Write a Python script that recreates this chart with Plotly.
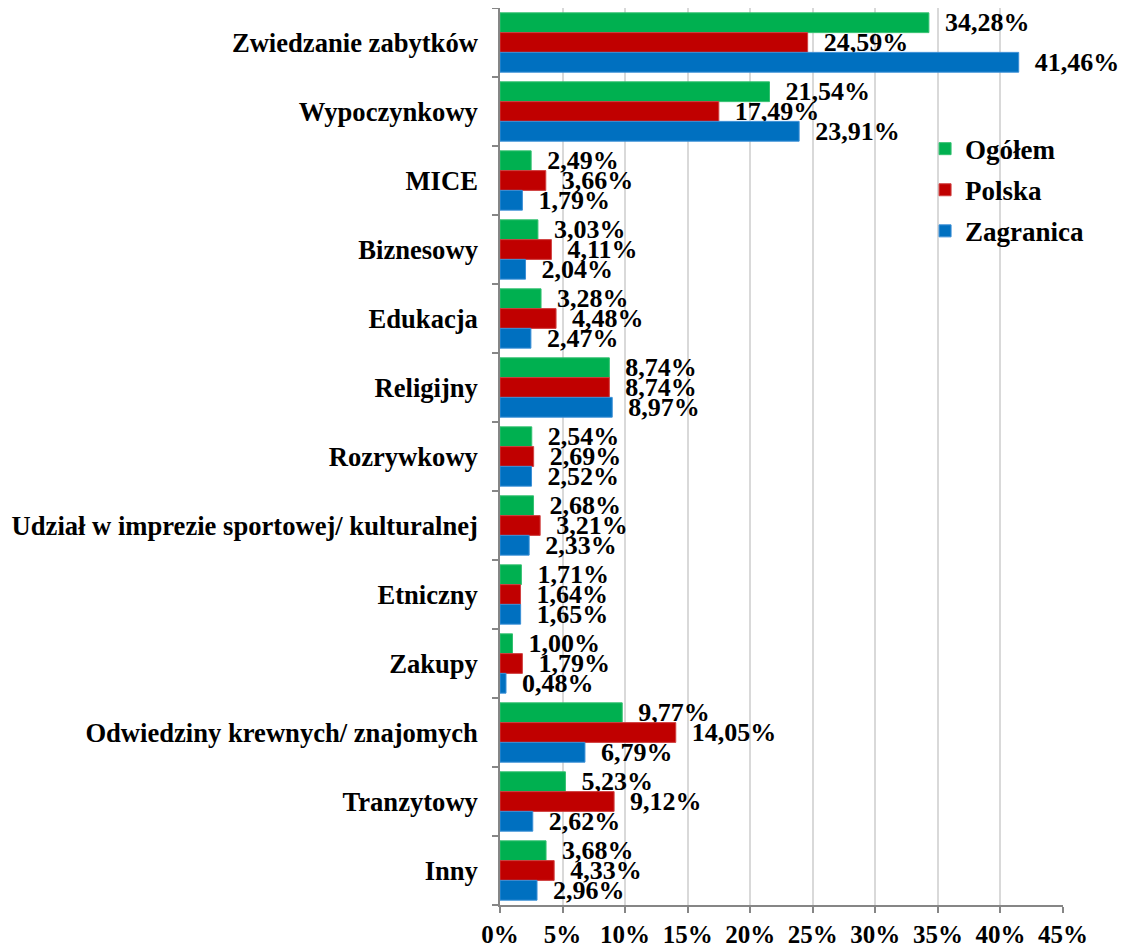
import plotly.graph_objects as go

# DATA
kategorie = [
    'Zwiedzanie zabytków', 'Wypoczynkowy', 'MICE', 'Biznesowy', 'Edukacja',
    'Religijny', 'Rozrywkowy', 'Udział w imprezie sportowej/ kulturalnej',
    'Etniczny', 'Zakupy', 'Odwiedziny krewnych/ znajomych', 'Tranzytowy', 'Inny'
]
ogolem = [34.28, 21.54, 2.49, 3.03, 3.28, 8.74, 2.54, 2.68, 1.71, 1.00, 9.77, 5.23, 3.68]
polska = [24.59, 17.49, 3.66, 4.11, 4.48, 8.74, 2.69, 3.21, 1.64, 1.79, 14.05, 9.12, 4.33]
zagranica = [41.46, 23.91, 1.79, 2.04, 2.47, 8.97, 2.52, 2.33, 1.65, 0.48, 6.79, 2.62, 2.96]
x_ticks = list(range(0, 50, 5))

serie = [
    ('Ogółem', ogolem, '#00B050', '#33C070'),
    ('Polska', polska, '#C00000', '#D04040'),
    ('Zagranica', zagranica, '#0070C0', '#3A8FD6'),
]

FONT = "'Liberation Serif', 'Times New Roman', Times, serif"

fig = go.Figure()
for i, (nazwa, wartosci, kolor, obrys) in enumerate(serie):
    fig.add_trace(go.Bar(
        y=kategorie,
        x=wartosci,
        name=f'<b>{nazwa}</b>',
        orientation='h',
        marker=dict(color=kolor, line=dict(color=obrys, width=1)),
        texttemplate='\u00a0\u00a0<b>%{x:.2f}%</b>',
        textposition='outside',
        constraintext='none',
        cliponaxis=False,
        textfont=dict(family=FONT, size=26, color='black'),
        legendgroup=str(i),
    ))

# page body has an 8px margin, so the figure is 8px smaller than the window
fig.update_layout(
    width=1121,
    height=942,
    barmode='group',
    bargap=0.14,
    bargroupgap=0,
    separators=', ',
    paper_bgcolor='white',
    plot_bgcolor='white',
    margin=dict(l=492, r=66, t=0, b=45),
    font=dict(family=FONT, size=26, color='black'),
    showlegend=True,
    legend=dict(
        x=0.755, y=0.87, xanchor='left', yanchor='top',
        font=dict(family=FONT, size=27, color='black'),
        traceorder='grouped',
        tracegroupgap=3,
        bgcolor='rgba(0,0,0,0)',
        itemwidth=30,
    ),
    xaxis=dict(
        range=[0, 45],
        tickvals=x_ticks,
        ticktext=[f'<b>{v}%</b>' for v in x_ticks],
        showgrid=True,
        gridcolor='#D9D9D9',
        gridwidth=1.5,
        showline=True,
        linecolor='#868686',
        linewidth=1.5,
        ticks='outside',
        ticklen=6,
        tickcolor='#868686',
        tickwidth=1.5,
        tickfont=dict(family=FONT, size=25, color='black'),
        zeroline=False,
        automargin=False,
    ),
    yaxis=dict(
        autorange='reversed',
        tickvals=kategorie,
        ticktext=[f'<b>{k}</b>' for k in kategorie],
        showline=True,
        linecolor='#868686',
        linewidth=1.5,
        ticks='outside',
        tickson='boundaries',
        ticklen=6,
        tickcolor='#868686',
        tickwidth=1.5,
        tickfont=dict(family=FONT, size=26.6, color='black'),
        ticklabelstandoff=15,
        showgrid=False,
        automargin=False,
    ),
)

fig.write_html('out.html')
